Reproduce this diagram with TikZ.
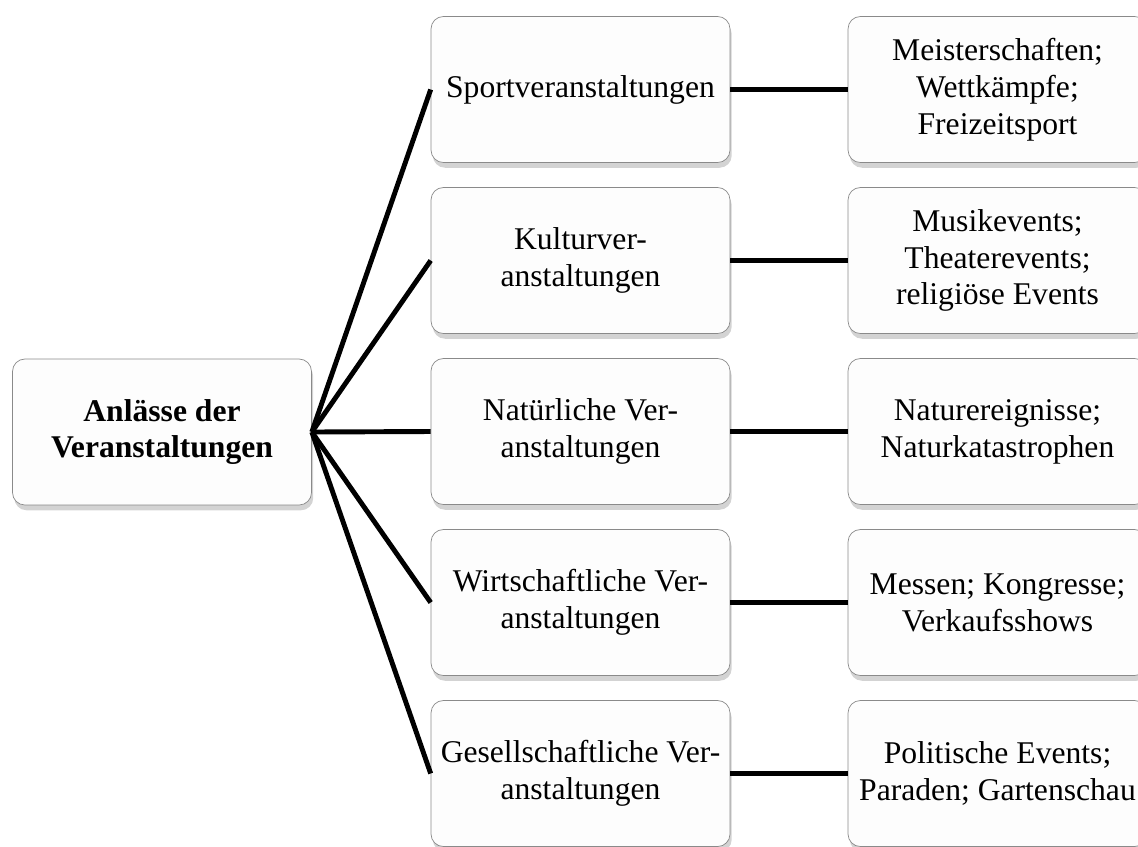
\documentclass[tikz,border=0pt]{standalone}
\usepackage{fontspec}
\setmainfont{Liberation Serif}
\usepackage{tikz}
\usetikzlibrary{shadows}
\definecolor{boxline}{HTML}{8A8A8A}
\definecolor{boxfill}{HTML}{FDFDFD}

\begin{document}
\begin{tikzpicture}[x=0.02cm,y=-0.02cm,
  every node/.style={font=\fontsize{18}{21}\selectfont},
  cell/.style={draw=boxline,rounded corners=7pt,fill=boxfill,align=center,
    minimum width=5.98cm,minimum height=2.92cm,
    drop shadow={opacity=0.35,shadow xshift=1pt,shadow yshift=-3pt}},
  link/.style={black,line width=2.8pt}]
\clip (0,0) rectangle (1138,846);
\node[cell] (root) at (162,432) {\textbf{Anlässe der}\\\textbf{Veranstaltungen}};
\node[cell] (sport) at (580.5,89.5) {Sportveranstaltungen};
\node[cell] (kultur) at (580.5,260.5) {Kulturver-\\anstaltungen};
\node[cell] (natur) at (580.5,431.5) {Natürliche Ver-\\anstaltungen};
\node[cell] (wirt) at (580.5,602.5) {Wirtschaftliche Ver-\\anstaltungen};
\node[cell] (ges) at (580.5,773.5) {Gesellschaftliche Ver-\\anstaltungen};
\node[cell] (sportx) at (997.5,89.5) {Meisterschaften;\\Wettkämpfe;\\Freizeitsport};
\node[cell] (kulturx) at (997.5,260.5) {Musikevents;\\Theaterevents;\\religiöse Events};
\node[cell] (naturx) at (997.5,431.5) {Naturereignisse;\\Naturkatastrophen};
\node[cell] (wirtx) at (997.5,602.5) {Messen; Kongresse;\\Verkaufsshows};
\node[cell] (gesx) at (997.5,773.5) {Politische Events;\\Paraden; Gartenschau};
\foreach \m in {sport,kultur,natur,wirt,ges}{
  \draw[link] (root.east)--(\m.west);
  \draw[link] (\m.east)--(\m x.west);
}
\end{tikzpicture}
\end{document}
